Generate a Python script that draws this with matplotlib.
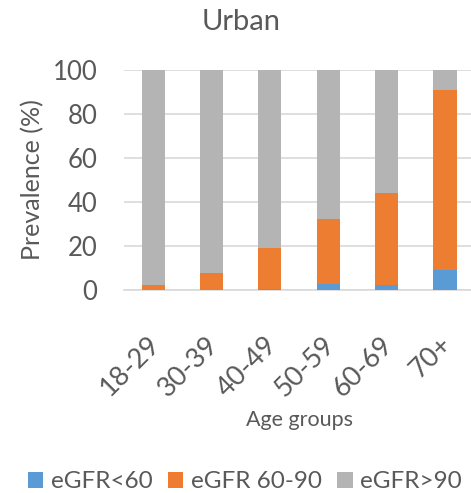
import numpy as np
import matplotlib
matplotlib.use("Agg")
import matplotlib.pyplot as plt
from matplotlib.transforms import ScaledTranslation

plt.rcParams['font.family'] = ['Lato', 'DejaVu Sans']

groups = ["18-29", "30-39", "40-49", "50-59", "60-69", "70+"]
egfr_lt60 = [0.0, 0.0, 0.3, 2.7, 2.3, 8.9]
egfr_60_90 = [2.4, 7.9, 18.6, 29.7, 41.8, 82.2]
egfr_gt90 = [97.6, 92.1, 81.1, 67.6, 55.9, 8.9]
series_names = ["eGFR<60", "eGFR 60-90", "eGFR>90"]

txt = "#595959"
cols = ["#5b9bd5", "#ed7d31", "#b4b4b4"]

fig = plt.figure(figsize=(4.71, 4.93), dpi=100)
ax = fig.add_axes([124/471, (493-290)/493, 350/471, 220/493])

x = np.arange(len(groups))
bottom = np.zeros(len(groups))
for vals, c, nm in zip([egfr_lt60, egfr_60_90, egfr_gt90], cols, series_names):
    ax.bar(x, vals, width=0.4, bottom=bottom, color=c, label=nm, zorder=3)
    bottom += np.array(vals)

ax.set_xlim(-0.5, len(groups) - 0.5)
ax.set_ylim(0, 100)
ax.set_yticks(range(0, 101, 20))
ax.yaxis.grid(True, color="#d9d9d9", linewidth=1.2, zorder=0)
for s in ["top", "right", "left"]:
    ax.spines[s].set_visible(False)
ax.spines["bottom"].set_color("#d9d9d9")
ax.spines["bottom"].set_linewidth(1.2)
ax.tick_params(length=0, colors=txt, labelsize=18.5)
ax.tick_params(axis='y', pad=19)
ax.set_xticks(x)
ax.set_xticklabels(groups, rotation=45, ha="right", rotation_mode="anchor", fontsize=19.5)
ax.tick_params(axis='x', pad=30)
# nudge the rotated labels a bit to the left
for lbl in ax.get_xticklabels():
    lbl.set_transform(lbl.get_transform() + ScaledTranslation(-0.06, 0, fig.dpi_scale_trans))

ax.set_ylabel("Prevalence (%)", color=txt, fontsize=18, labelpad=6)
# x label placed by hand so it sits below the rotated tick labels
fig.text(299/471, 1 - 420/493, "Age groups", ha="center", va="center", color=txt, fontsize=15.5)
fig.text(241/471, 1 - 22/493, "Urban", ha="center", va="center", color=txt, fontsize=21)

fig.legend(loc="center", bbox_to_anchor=(245/471, 1 - 482/493), ncol=3, frameon=False,
           fontsize=17.5, labelcolor=txt, handlelength=0.62, handleheight=0.62,
           handletextpad=0.3, columnspacing=0.65)

fig.savefig("out.png", dpi=100)
